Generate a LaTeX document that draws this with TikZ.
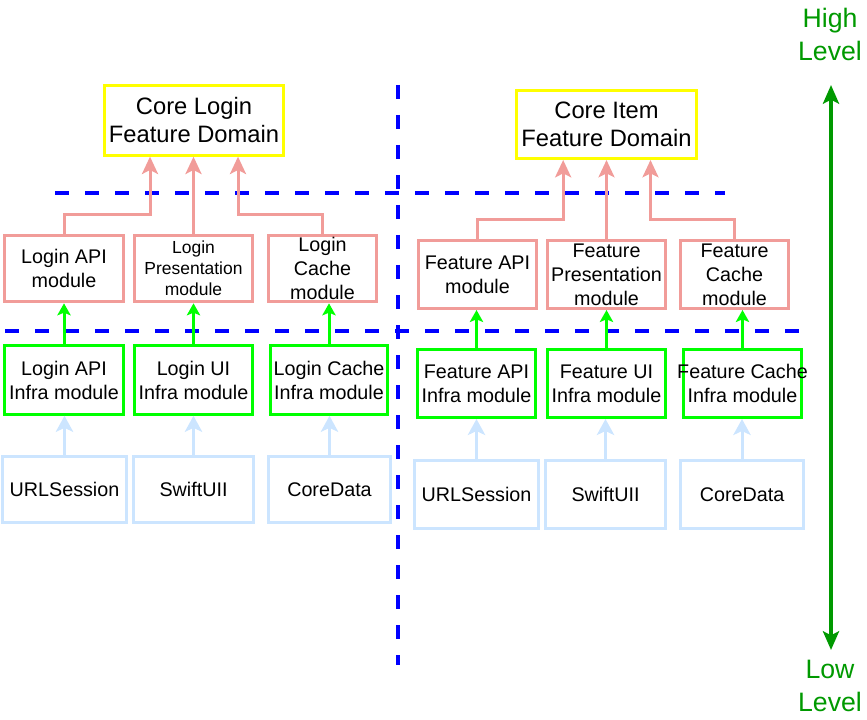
\documentclass[tikz,border=0pt]{standalone}
\usepackage{fontspec}
\setmainfont{Liberation Sans}
\usetikzlibrary{arrows.meta}

\definecolor{domainyellow}{RGB}{255,255,0}
\definecolor{featpink}{RGB}{241,156,153}
\definecolor{infragreen}{RGB}{0,255,0}
\definecolor{libblue}{RGB}{204,229,255}
\definecolor{levelgreen}{RGB}{0,153,0}
\definecolor{sepblue}{RGB}{0,0,255}

\tikzset{
  box/.style={draw, line width=2.25pt, fill=white, align=center, inner sep=0pt,
    font=\fontsize{14.8pt}{18pt}\selectfont},
  domainbox/.style={box, draw=domainyellow, minimum width=134.5pt, minimum height=52pt,
    font=\fontsize{17.8pt}{21pt}\selectfont},
  featbox/.style={box, draw=featpink, minimum height=50pt},
  infrabox/.style={box, draw=infragreen, minimum height=51.5pt},
  libbox/.style={box, draw=libblue, minimum height=50pt},
  separator/.style={sepblue, line width=3pt, dash pattern=on 10.5pt off 12pt},
  featarrow/.style={featpink, line width=2.25pt, -{Stealth[length=13pt,width=12pt,inset=3pt]}},
  infraarrow/.style={infragreen, line width=2.25pt, -{Stealth[length=9pt,width=10pt,inset=2pt]}},
  libarrow/.style={libblue, line width=2.25pt, -{Stealth[length=12pt,width=13pt,inset=3pt]}},
  levelarrow/.style={levelgreen, line width=3pt,
    {Stealth[length=14pt,width=12pt,inset=3pt]}-{Stealth[length=14pt,width=12pt,inset=3pt]}},
  leveltext/.style={levelgreen, align=center, font=\fontsize{20pt}{24.75pt}\selectfont}
}

\begin{document}
\begin{tikzpicture}[x=0.75pt,y=-0.75pt]
\useasboundingbox (0,0) rectangle (867,720);

% separators
\draw[separator] (55,193) -- (725,193);
\draw[separator] (5,331) -- (810,331);
\draw[separator] (398,85) -- (398,665);

% login side
\node[domainbox] (coreL) at (194,120.5) {Core Login\\Feature Domain};
\node[featbox, minimum width=89.25pt] (loginApi) at (64,268.5) {Login API\\module};
\node[featbox, minimum width=88.5pt, font=\fontsize{13.1pt}{15.75pt}\selectfont] (loginPres) at (193.5,268.5) {Login\\Presentation\\module};
\node[featbox, minimum width=81pt] (loginCache) at (322.5,268.5) {Login\\Cache\\module};
\node[infrabox, minimum width=89.25pt] (loginApiInfra) at (64,380) {Login API\\Infra module};
\node[infrabox, minimum width=88.5pt] (loginUiInfra) at (193.5,380) {Login UI\\Infra module};
\node[infrabox, minimum width=87.75pt] (loginCacheInfra) at (329,380) {Login Cache\\Infra module};
\node[libbox, minimum width=93pt] (urlL) at (64.5,489.5) {URLSession};
\node[libbox, minimum width=90pt] (swiftL) at (193.5,489.5) {SwiftUII};
\node[libbox, minimum width=91.5pt] (coreDataL) at (329.5,489.5) {CoreData};

% item side
\node[domainbox, minimum width=135pt, minimum height=51pt] (coreR) at (606.5,124.5) {Core Item\\Feature Domain};
\node[featbox, minimum width=88.5pt, minimum height=51pt] (featApi) at (477.5,274.5) {Feature API\\module};
\node[featbox, minimum width=88.5pt, minimum height=51pt] (featPres) at (606.5,274.5) {Feature\\Presentation\\module};
\node[featbox, minimum width=81pt, minimum height=51pt] (featCache) at (734.5,274.5) {Feature\\Cache\\module};
\node[infrabox, minimum width=88.5pt, minimum height=51pt] (featApiInfra) at (476.5,383.5) {Feature API\\Infra module};
\node[infrabox, minimum width=88.5pt, minimum height=51pt] (featUiInfra) at (606.5,383.5) {Feature UI\\Infra module};
\node[infrabox, minimum width=88.5pt, minimum height=51pt, inner xsep=-6pt] (featCacheInfra) at (742.5,383.5) {Feature Cache\\Infra module};
\node[libbox, minimum width=93pt, minimum height=51pt] (urlR) at (476.5,494.5) {URLSession};
\node[libbox, minimum width=90pt, minimum height=51pt] (swiftR) at (605.5,494.5) {SwiftUII};
\node[libbox, minimum width=92.25pt, minimum height=51pt] (coreDataR) at (742,494.5) {CoreData};

% level scale
\node[leveltext] (high) at (830,34) {High\\Level};
\node[leveltext] (low) at (830,686) {Low\\Level};
\coordinate (levelTop) at (831,85);
\coordinate (levelBottom) at (831,650);
\draw[levelarrow] (levelTop) -- (levelBottom);

% dependencies
\draw[featarrow] (loginApi.north) -- ++(0,-19) -| ([xshift=-33pt]coreL.south);
\draw[featarrow] (loginPres.north) -- (loginPres.north |- coreL.south);
\draw[featarrow] (loginCache.north) -- ++(0,-19) -| ([xshift=33pt]coreL.south);
\draw[featarrow] (featApi.north) -- ++(0,-19) -| ([xshift=-32.5pt]coreR.south);
\draw[featarrow] (featPres.north) -- (featPres.north |- coreR.south);
\draw[featarrow] (featCache.north) -- ++(0,-19) -| ([xshift=33pt]coreR.south);

\foreach \infra/\feat in {loginApiInfra/loginApi, loginUiInfra/loginPres, loginCacheInfra/loginCache,
    featApiInfra/featApi, featUiInfra/featPres, featCacheInfra/featCache}
  \draw[infraarrow] (\infra.north) -- (\infra.north |- \feat.south);

\foreach \lib/\infra in {urlL/loginApiInfra, swiftL/loginUiInfra, coreDataL/loginCacheInfra,
    urlR/featApiInfra, swiftR/featUiInfra, coreDataR/featCacheInfra}
  \draw[libarrow] (\lib.north) -- (\lib.north |- \infra.south);
\end{tikzpicture}
\end{document}
